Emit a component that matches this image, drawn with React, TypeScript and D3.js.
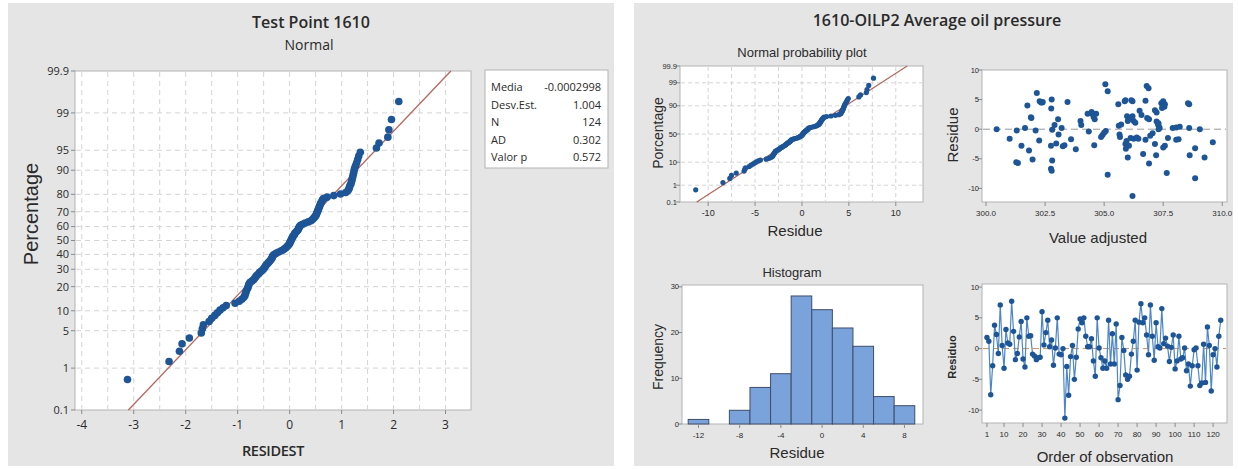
import React from 'react';
import * as d3 from 'd3';

// ---------------- DATA ----------------
// Standardized residuals (RESIDEST), sorted
const stdResidSorted = [
  -3.12, -2.32, -2.12, -2.07, -1.93, -1.70, -1.68, -1.66, -1.55, -1.50,
  -1.44, -1.39, -1.34, -1.28, -1.22, -1.05, -0.97, -0.92, -0.88, -0.86,
  -0.85, -0.84, -0.83, -0.81, -0.80, -0.79, -0.78, -0.76, -0.72, -0.69,
  -0.67, -0.65, -0.63, -0.60, -0.58, -0.55, -0.52, -0.50, -0.48, -0.47,
  -0.45, -0.43, -0.41, -0.39, -0.37, -0.35, -0.34, -0.33, -0.32, -0.30,
  -0.26, -0.22, -0.17, -0.13, -0.10, -0.07, -0.05, -0.03, -0.01, 0.00,
  0.01, 0.02, 0.03, 0.04, 0.05, 0.06, 0.08, 0.09, 0.10, 0.12,
  0.14, 0.16, 0.17, 0.18, 0.19, 0.21, 0.25, 0.30, 0.36, 0.41,
  0.44, 0.46, 0.48, 0.50, 0.51, 0.52, 0.53, 0.54, 0.55, 0.56,
  0.57, 0.58, 0.59, 0.60, 0.62, 0.63, 0.65, 0.72, 0.85, 0.98,
  1.08, 1.12, 1.14, 1.15, 1.16, 1.18, 1.19, 1.20, 1.21, 1.22,
  1.23, 1.24, 1.25, 1.27, 1.29, 1.31, 1.33, 1.36, 1.67, 1.72,
  1.89, 1.91, 1.96, 2.10,
];
const statLabels = ['Media', 'Desv.Est.', 'N', 'AD', 'Valor p'];
const statValues = ['-0.0002998', '1.004', '124', '0.302', '0.572'];
const fitMean = -0.0002998;
const fitSD = 1.004;
const residSD = 3.63; // scale of raw residuals (right normal plot)

const probTicksLeft = [0.1, 1, 5, 10, 20, 30, 40, 50, 60, 70, 80, 90, 95, 99, 99.9];
const probTicksRight = [0.1, 1, 10, 50, 90, 99, 99.9];
const xTicksLeft = [-4, -3, -2, -1, 0, 1, 2, 3];
const xTicksNpp = [-10, -5, 0, 5, 10];

// Histogram of residuals (bin start, width 2)
const histBinStarts = [-13, -11, -9, -7, -5, -3, -1, 1, 3, 5, 7];
const histCounts = [1, 0, 3, 8, 11, 28, 25, 21, 17, 6, 4];
const histXTicks = [-12, -8, -4, 0, 4, 8];
const histYTicks = [0, 10, 20, 30];

// Residuals vs fitted values
const fittedValues = [
  300.45, 301.0, 301.3, 301.28, 301.35, 301.5, 301.65, 301.75, 301.82, 301.92,
  301.97, 302.1, 302.15, 302.25, 302.27, 302.33, 302.38, 302.75, 302.76, 302.78,
  302.8, 302.8, 302.75, 302.78, 302.9, 302.97, 303.05, 303.07, 303.2, 303.25,
  303.32, 303.45, 303.6, 303.8, 304.0, 304.03, 304.3, 304.35, 304.5, 304.55,
  304.6, 304.58, 304.66, 304.87, 304.93, 305.0, 305.07, 305.05, 305.15, 305.15,
  305.6, 305.62, 305.65, 305.67, 305.87, 305.9, 305.92, 305.95, 305.97, 306.0,
  306.05, 306.1, 306.0, 306.2, 306.25, 306.32, 306.12, 306.25, 306.38, 306.45,
  306.2, 306.5, 306.58, 306.65, 306.8, 306.88, 306.75, 306.82, 306.9, 306.75,
  306.9, 307.05, 307.15, 307.22, 307.22, 307.28, 307.32, 307.35, 307.15, 307.2,
  307.42, 307.5, 307.57, 307.5, 307.57, 307.65, 307.7, 307.9, 308.05, 308.05,
  308.15, 308.55, 308.6, 308.6, 308.62, 308.85, 308.85, 309.05, 309.25, 309.6,
  305.9, 306.15, 305.72, 306.2, 307.3, 307.45, 307.55, 308.2, 306.95, 302.4,
  304.47, 306.05, 307.3, 301.9,
];
const fitResiduals = [
  0.0, -1.6, -0.2, -5.6, -5.7, -2.8, 0.2, 4.0, -3.6, 1.9,
  -5.1, -0.2, 6.1, -1.9, 4.7, 4.5, 4.5, -2.8, 3.5, 5.0,
  -0.1, -5.3, -6.7, -7.0, 0.7, -2.4, 1.7, -0.9, 0.2, -2.9,
  -2.7, 4.6, -1.7, -3.4, 1.4, 0.7, 2.6, -0.4, 2.6, 2.1,
  1.7, -2.7, 2.6, -1.3, -1.0, -0.6, -0.3, 7.6, 6.4, -7.7,
  4.2, 0.6, -0.9, -1.3, 4.7, -2.5, -3.3, -2.0, 2.2, 1.4,
  1.7, 1.9, -4.8, 4.7, 1.4, 1.1, -1.5, -1.6, -1.4, -1.6,
  -11.3, 3.1, 2.4, -4.2, 7.3, 6.9, 4.8, 1.9, 1.7, -1.8,
  -5.8, -0.7, 3.2, 2.8, 1.3, 0.8, 0.4, 0.2, -2.5, -4.4,
  4.4, 4.7, 4.2, -3.1, -2.8, -7.4, -1.5, 0.2, 0.3, -1.8,
  -1.7, 4.4, 4.2, 0.2, -4.4, -3.2, -8.3, 0.0, -4.8, -2.2,
  4.9, 4.9, 0.8, 2.2, 1.0, 3.6, 3.8, 0.4, -1.1, 4.6,
  2.9, -2.8, 0.0, 2.0,
];
const fitXTicks = [300, 302.5, 305, 307.5, 310];
const residYTicks = [-10, -5, 0, 5, 10];

// Residuals in observation order
const orderResiduals = [
  1.8, 1.2, -7.5, -2.8, 3.8, 2.3, -0.8, 7.1, 0.5, -3.2,
  3.1, 0.9, 0.7, 7.7, 2.8, -1.8, -0.8, 1.9, 4.4, -1.7,
  -3.0, 5.0, 2.0, 2.1, -0.9, -1.2, -1.8, -1.5, -1.4, 6.0,
  0.6, 2.6, 4.6, 0.3, 1.4, -2.7, 0.1, 5.0, -0.9, -1.0,
  0.0, -11.3, -2.9, -7.6, -1.3, 0.5, -5.0, -1.4, 3.2, 4.8,
  4.2, 5.0, 2.0, 0.3, 0.3, 1.6, -2.0, -4.5, 5.0, 0.1,
  -1.5, -3.2, -2.0, -3.2, 4.6, -2.5, 2.4, -2.5, 4.0, -8.3,
  -6.0, 1.8, -0.3, -4.3, -5.0, -4.5, -0.9, 1.2, 4.6, -3.5,
  4.3, 7.3, 4.2, 5.0, 2.2, -1.0, 7.1, 2.0, -1.9, 4.2,
  0.3, 0.1, 6.5, 0.8, 1.7, 0.4, -2.1, 0.2, 2.2, -3.3,
  -2.0, 2.0, -1.7, -1.5, 0.1, -3.6, -2.5, -6.1, -2.8, -0.2,
  0.1, -2.8, -6.0, -5.6, 0.7, -5.5, 3.5, 0.5, -6.9, -1.0,
  0.0, -3.0, 2.0, 4.6,
];
const orderXTicks = [1, 10, 20, 30, 40, 50, 60, 70, 80, 90, 100, 110, 120];

// ---------------- HELPERS ----------------
function probit(p: number): number {
  const a = [-39.69683028665376, 220.9460984245205, -275.9285104469687, 138.357751867269, -30.66479806614716, 2.506628277459239];
  const b = [-54.47609879822406, 161.5858368580409, -155.6989798598866, 66.80131188771972, -13.28068155288572];
  const c = [-0.007784894002430293, -0.3223964580411365, -2.400758277161838, -2.549732539343734, 4.374664141464968, 2.938163982698783];
  const d = [0.007784695709041462, 0.3224671290700398, 2.445134137142996, 3.754408661907416];
  const pl = 0.02425;
  if (p < pl) {
    const q = Math.sqrt(-2 * Math.log(p));
    return (((((c[0] * q + c[1]) * q + c[2]) * q + c[3]) * q + c[4]) * q + c[5]) / ((((d[0] * q + d[1]) * q + d[2]) * q + d[3]) * q + 1);
  }
  if (p > 1 - pl) {
    const q = Math.sqrt(-2 * Math.log(1 - p));
    return -(((((c[0] * q + c[1]) * q + c[2]) * q + c[3]) * q + c[4]) * q + c[5]) / ((((d[0] * q + d[1]) * q + d[2]) * q + d[3]) * q + 1);
  }
  const q = p - 0.5;
  const r = q * q;
  return (((((a[0] * r + a[1]) * r + a[2]) * r + a[3]) * r + a[4]) * r + a[5]) * q / (((((b[0] * r + b[1]) * r + b[2]) * r + b[3]) * r + b[4]) * r + 1);
}

const FONT_UI = "'Open Sans', 'Noto Sans', sans-serif";
const FONT_AR = "'Liberation Sans', Arial, sans-serif";
const BLUE = '#1d5597';
const LINE_BLUE = '#4d86c6';
const FIT_RED = '#b5675d';
const GRID = '#d4d4d4';
const FRAME = '#b3b3b3';
const TICK = '#8a8a8a';
const TXT = '#2a2a2a';
const PANEL_BG = '#e5e5e5';

type Box = { l: number; r: number; t: number; b: number };

function Frame({ box }: { box: Box }) {
  return <rect x={box.l} y={box.t} width={box.r - box.l} height={box.b - box.t} fill="#ffffff" stroke={FRAME} strokeWidth={1} />;
}

function XTicks({ box, pos, labels, fontSize, labelY, font }: { box: Box; pos: number[]; labels: string[]; fontSize: number; labelY: number; font: string }) {
  return (
    <g>
      {pos.map((p, i) => (
        <g key={i}>
          <line x1={p} x2={p} y1={box.b} y2={box.b + 4} stroke={TICK} strokeWidth={1} />
          <text x={p} y={labelY} textAnchor="middle" fontSize={fontSize} fontFamily={font} fill={TXT}>{labels[i]}</text>
        </g>
      ))}
    </g>
  );
}

function YTicks({ box, pos, labels, fontSize, labelX, font }: { box: Box; pos: number[]; labels: string[]; fontSize: number; labelX: number; font: string }) {
  return (
    <g>
      {pos.map((p, i) => (
        <g key={i}>
          <line x1={box.l - 4} x2={box.l} y1={p} y2={p} stroke={TICK} strokeWidth={1} />
          <text x={labelX} y={p} dy="0.35em" textAnchor="end" fontSize={fontSize} fontFamily={font} fill={TXT}>{labels[i]}</text>
        </g>
      ))}
    </g>
  );
}

// ---------------- LEFT PANEL ----------------
function LeftPanel() {
  const box: Box = { l: 75, r: 471, t: 71, b: 410 };
  const x = d3.scaleLinear().domain([-4.13, 3.49]).range([box.l, box.r]);
  const zMax = probit(0.999);
  const y = d3.scaleLinear().domain([-zMax, zMax]).range([box.b, box.t]);
  const n = stdResidSorted.length;
  const pts = stdResidSorted.map((v, i) => [x(v), y(probit((i + 1 - 0.3) / (n + 0.4)))]);
  const gridX = d3.range(-4, 3.01, 0.5);
  const gridY = probTicksLeft.filter((p) => p > 0.1 && p < 99.9);
  const fitLine = d3.line<number>().x((z) => x(fitMean + fitSD * z)).y((z) => y(z));
  return (
    <g>
      <rect x={8} y={3} width={606} height={463} fill={PANEL_BG} />
      <text x={311} y={28} textAnchor="middle" fontSize={16} fontWeight={600} fontFamily={FONT_UI} fill={TXT}>Test Point 1610</text>
      <text x={309} y={50} textAnchor="middle" fontSize={14} fontFamily={FONT_UI} fill={TXT}>Normal</text>
      <Frame box={box} />
      {gridX.map((g, i) => (
        <line key={'gx' + i} x1={x(g)} x2={x(g)} y1={box.t + 1} y2={box.b - 1} stroke={GRID} strokeDasharray="5,4" />
      ))}
      {gridY.map((g, i) => (
        <line key={'gy' + i} x1={box.l + 1} x2={box.r - 1} y1={y(probit(g / 100))} y2={y(probit(g / 100))} stroke={GRID} strokeDasharray="5,4" />
      ))}
      <XTicks box={box} pos={xTicksLeft.map((t) => x(t))} labels={xTicksLeft.map(String)} fontSize={12} labelY={429} font={FONT_UI} />
      <YTicks box={box} pos={probTicksLeft.map((p) => y(probit(p / 100)))} labels={probTicksLeft.map(String)} fontSize={11} labelX={69} font={FONT_UI} />
      <path d={fitLine([-zMax, zMax]) || ''} stroke={FIT_RED} strokeWidth={1.3} fill="none" />
      {pts.map((p, i) => (
        <circle key={i} cx={p[0]} cy={p[1]} r={3.8} fill={BLUE} />
      ))}
      <text x={273} y={456} textAnchor="middle" fontSize={14.5} fontWeight={600} fontFamily={FONT_UI} fill={TXT} letterSpacing={-0.3}>RESIDEST</text>
      <text transform="translate(38,214) rotate(-90)" textAnchor="middle" fontSize={20} fontFamily={FONT_AR} fill={TXT}>Percentage</text>
      <rect x={485} y={70} width={123} height={98} fill="#ffffff" stroke={FRAME} />
      {statLabels.map((s, i) => (
        <g key={s}>
          <text x={491} y={91 + i * 17.5} fontSize={11} fontFamily={FONT_UI} fill={TXT}>{s}</text>
          <text x={601} y={91 + i * 17.5} textAnchor="end" fontSize={11} fontFamily={FONT_UI} fill={TXT}>{statValues[i]}</text>
        </g>
      ))}
    </g>
  );
}

// ---------------- RIGHT PANELS ----------------
function NormalProbPlot() {
  const box: Box = { l: 680, r: 923, t: 66, b: 202 };
  const x = d3.scaleLinear().domain([-13, 12.9]).range([box.l, box.r]);
  const zMax = probit(0.999);
  const y = d3.scaleLinear().domain([-zMax, zMax]).range([box.b, box.t]);
  const n = stdResidSorted.length;
  const pts = stdResidSorted.map((v, i) => [x(v * residSD), y(probit((i + 1 - 0.3) / (n + 0.4)))]);
  const gridX = d3.range(-10, 10.01, 2.5);
  const gridY = probTicksRight.filter((p) => p > 0.1 && p < 99.9);
  const fitLine = d3.line<number>().x((z) => x(residSD * z)).y((z) => y(z));
  return (
    <g>
      <text x={802} y={57} textAnchor="middle" fontSize={13} fontFamily={FONT_AR} fill={TXT}>Normal probability plot</text>
      <Frame box={box} />
      {gridX.map((g, i) => (
        <line key={'gx' + i} x1={x(g)} x2={x(g)} y1={box.t + 1} y2={box.b - 1} stroke={GRID} strokeDasharray="4,3" />
      ))}
      {gridY.map((g, i) => (
        <line key={'gy' + i} x1={box.l + 1} x2={box.r - 1} y1={y(probit(g / 100))} y2={y(probit(g / 100))} stroke={GRID} strokeDasharray="4,3" />
      ))}
      <XTicks box={box} pos={xTicksNpp.map((t) => x(t))} labels={xTicksNpp.map(String)} fontSize={9} labelY={216} font={FONT_AR} />
      <YTicks box={box} pos={probTicksRight.map((p) => y(probit(p / 100)))} labels={probTicksRight.map(String)} fontSize={7.5} labelX={677} font={FONT_AR} />
      <path d={fitLine([-zMax, zMax]) || ''} stroke={FIT_RED} strokeWidth={1.2} fill="none" />
      {pts.map((p, i) => (
        <circle key={i} cx={p[0]} cy={p[1]} r={2.6} fill={BLUE} />
      ))}
      <text x={795} y={236} textAnchor="middle" fontSize={15} fontFamily={FONT_AR} fill={TXT}>Residue</text>
      <text transform="translate(663,133) rotate(-90)" textAnchor="middle" fontSize={14} fontFamily={FONT_AR} fill={TXT}>Porcentage</text>
    </g>
  );
}

function FitsPlot() {
  const box: Box = { l: 982, r: 1227, t: 70, b: 202 };
  const x = d3.scaleLinear().domain([299.83, 310.2]).range([box.l, box.r]);
  const y = d3.scaleLinear().domain([-12.3, 10]).range([box.b, box.t]);
  return (
    <g>
      <Frame box={box} />
      <XTicks box={box} pos={fitXTicks.map((t) => x(t))} labels={fitXTicks.map((t) => t.toFixed(1))} fontSize={8} labelY={216} font={FONT_AR} />
      <YTicks box={box} pos={residYTicks.map((t) => y(t))} labels={residYTicks.map(String)} fontSize={7.5} labelX={979} font={FONT_AR} />
      <line x1={box.l + 1} x2={box.r - 1} y1={y(0)} y2={y(0)} stroke="#9a9a9a" strokeWidth={1} strokeDasharray="7,4" />
      {fittedValues.map((f, i) => (
        <circle key={i} cx={x(f)} cy={y(fitResiduals[i])} r={3} fill={BLUE} />
      ))}
      <text transform="translate(958,135) rotate(-90)" textAnchor="middle" fontSize={15} fontFamily={FONT_AR} fill={TXT}>Residue</text>
      <text x={1098} y={243} textAnchor="middle" fontSize={15} fontFamily={FONT_AR} fill={TXT}>Value adjusted</text>
    </g>
  );
}

function HistogramPlot() {
  const box: Box = { l: 682, r: 923, t: 285, b: 424 };
  const x = d3.scaleLinear().domain([-13.6, 9.8]).range([box.l, box.r]);
  const y = d3.scaleLinear().domain([0, 30.4]).range([box.b, box.t]);
  return (
    <g>
      <text x={792} y={277} textAnchor="middle" fontSize={13} fontFamily={FONT_AR} fill={TXT}>Histogram</text>
      <Frame box={box} />
      {histBinStarts.map((s, i) =>
        histCounts[i] > 0 ? (
          <rect key={i} x={x(s)} y={y(histCounts[i])} width={x(s + 2) - x(s)} height={y(0) - y(histCounts[i])} fill="#79a3da" stroke="#3f4d6b" strokeWidth={1} />
        ) : null
      )}
      <XTicks box={box} pos={histXTicks.map((t) => x(t))} labels={histXTicks.map(String)} fontSize={8} labelY={438} font={FONT_AR} />
      <YTicks box={box} pos={histYTicks.map((t) => y(t))} labels={histYTicks.map(String)} fontSize={7.5} labelX={679} font={FONT_AR} />
      <text transform="translate(663,357) rotate(-90)" textAnchor="middle" fontSize={14} fontFamily={FONT_AR} fill={TXT}>Frequency</text>
      <text x={797} y={458} textAnchor="middle" fontSize={15} fontFamily={FONT_AR} fill={TXT}>Residue</text>
    </g>
  );
}

function OrderPlot() {
  const box: Box = { l: 982, r: 1227, t: 284, b: 423 };
  const x = d3.scaleLinear().domain([-1.6, 127.3]).range([box.l, box.r]);
  const y = d3.scaleLinear().domain([-12.1, 10.5]).range([box.b, box.t]);
  const line = d3.line<number>().x((_, i) => x(i + 1)).y((v) => y(v));
  return (
    <g>
      <Frame box={box} />
      <line x1={box.l + 1} x2={box.r - 1} y1={y(0)} y2={y(0)} stroke="#c9905f" strokeWidth={1} strokeDasharray="6,4" />
      <path d={line(orderResiduals) || ''} stroke={LINE_BLUE} strokeWidth={1.2} fill="none" />
      {orderResiduals.map((v, i) => (
        <circle key={i} cx={x(i + 1)} cy={y(v)} r={2.7} fill={BLUE} />
      ))}
      <XTicks box={box} pos={orderXTicks.map((t) => x(t))} labels={orderXTicks.map(String)} fontSize={8} labelY={437} font={FONT_AR} />
      <YTicks box={box} pos={residYTicks.map((t) => y(t))} labels={residYTicks.map(String)} fontSize={7.5} labelX={979} font={FONT_AR} />
      <text transform="translate(956,357) rotate(-90)" textAnchor="middle" fontSize={11} fontWeight={600} fontFamily={FONT_AR} fill={TXT}>Residuo</text>
      <text x={1105} y={462} textAnchor="middle" fontSize={15} fontFamily={FONT_AR} fill={TXT}>Order of observation</text>
    </g>
  );
}

function RightPanel() {
  return (
    <g>
      <rect x={634} y={3} width={599} height={463} fill={PANEL_BG} />
      <text x={937} y={26} textAnchor="middle" fontSize={16} fontWeight={600} fontFamily={FONT_UI} fill={TXT}>1610-OILP2 Average oil pressure</text>
      <NormalProbPlot />
      <FitsPlot />
      <HistogramPlot />
      <OrderPlot />
    </g>
  );
}

export default function App() {
  return (
    <svg width={1238} height={469} style={{ position: 'absolute', left: 0, top: 0, background: '#ffffff' }}>
      <LeftPanel />
      <RightPanel />
    </svg>
  );
}
